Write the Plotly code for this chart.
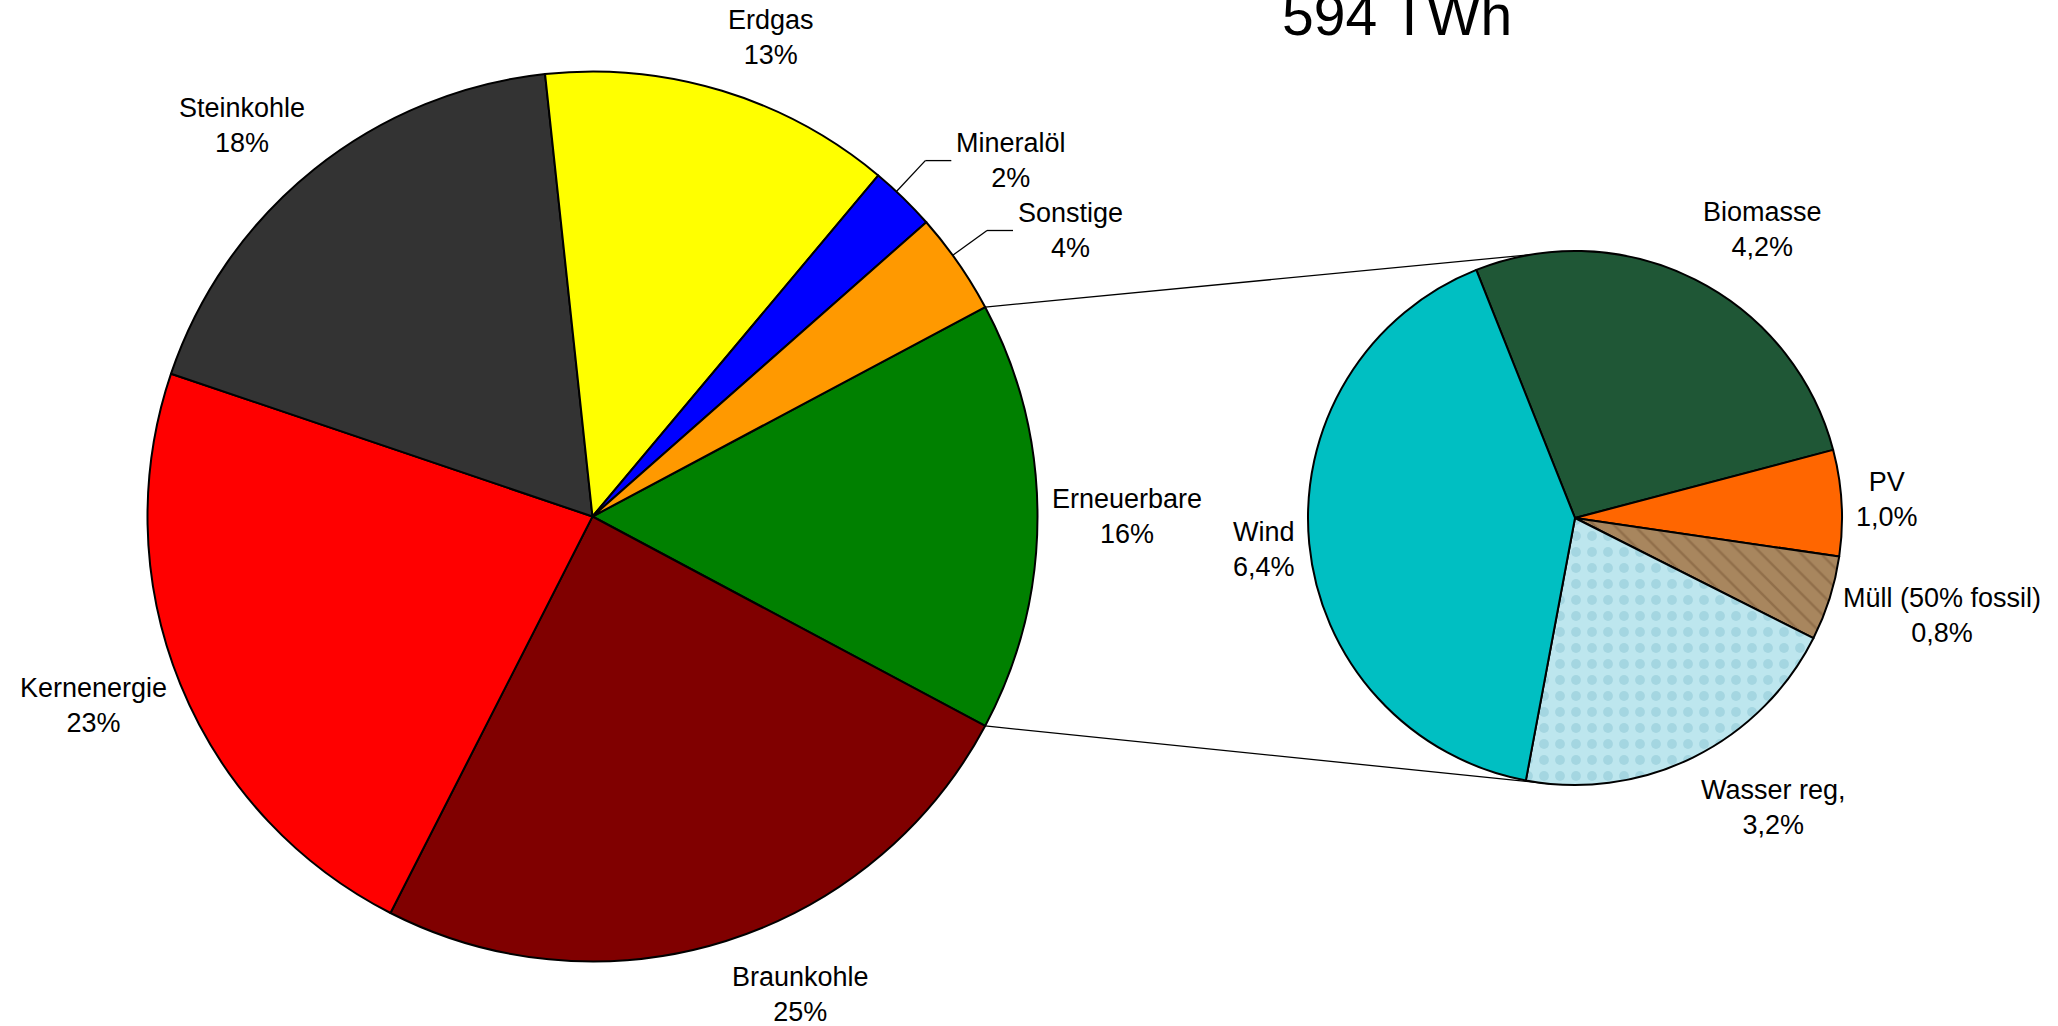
import math
import plotly.graph_objects as go

# ---------------- data ----------------
total_twh = 594
main_labels = ["Erneuerbare", "Braunkohle", "Kernenergie", "Steinkohle", "Erdgas", "Mineralöl", "Sonstige"]
main_values = [15.6, 24.7, 22.7, 18.1, 12.8, 2.4, 3.7]          # share of total, %
sub_labels = ["Biomasse", "PV", "Müll (50% fossil)", "Wasser reg.", "Wind"]
sub_values = [4.2, 1.0, 0.8, 3.2, 6.4]                             # share of total, %

# ---------------- styles / layout ----------------
W, H = 2058, 1026
FONT = "Liberation Sans, Arial, sans-serif"
LABEL_SIZE = 27
main_colors = ["#008000", "#800000", "#FF0000", "#333333", "#FFFF00", "#0000FF", "#FF9900"]
sub_colors = ["#1F5736", "#FF6600", "#A8865E", "#BDE6EE", "#00BFC2"]
sub_pattern = ["", "", "\\", ".", ""]
sub_fg = ["#2E6E4A", "#FF6600", "#7A5836", "#8CC6D4", "#00BFC2"]
sub_size = [34, 8, 14, 16, 8]
sub_solid = [0.08, 0.3, 0.18, 0.3, 0.3]

MAIN_C, MAIN_R = (592.5, 516.5), 445.0
SUB_C, SUB_R = (1575.0, 518.0), 267.0
SUB_ROT = -21.7
GAP = 12
HALF_H = 44
LEADER_LABELS = {"Mineralöl", "Sonstige"}
LEADER_R, LEADER_SHIFT, LEADER_LEN = 1.095, -1.2, 26
CONN_TOP_DEG, CONN_BOT_DEG = -9.5, 185.5


def px(x):
    return x / W


def py(y):
    return 1 - y / H


def domain(c, r):
    return dict(x=[px(c[0] - r), px(c[0] + r)], y=[py(c[1] + r), py(c[1] - r)])


def mids(values, rot):
    tot = sum(values)
    out, cum = [], 0.0
    for v in values:
        out.append(rot + (cum + v / 2) / tot * 360)
        cum += v
    return out


def direction(deg):
    a = math.radians(deg)
    return math.sin(a), -math.cos(a)


main_total = sum(main_values)
main_rot = 90 - main_values[0] / main_total * 360 / 2

fig = go.Figure()
fig.add_trace(go.Pie(
    labels=main_labels, values=main_values, sort=False, direction="clockwise",
    rotation=main_rot, textinfo="none", hoverinfo="label+percent",
    marker=dict(colors=main_colors, line=dict(color="black", width=2)),
    domain=domain(MAIN_C, MAIN_R), showlegend=False,
))
fig.add_trace(go.Pie(
    labels=sub_labels, values=sub_values, sort=False, direction="clockwise",
    rotation=SUB_ROT, textinfo="none", hoverinfo="label+value",
    marker=dict(colors=sub_colors, line=dict(color="black", width=2),
                pattern=dict(shape=sub_pattern, fgcolor=sub_fg, size=sub_size,
                             solidity=sub_solid, fillmode="overlay")),
    domain=domain(SUB_C, SUB_R), showlegend=False,
))

annotations, shapes = [], []


def add_label(c, r, deg, text):
    dx, dy = direction(deg)
    x = c[0] + (r + GAP) * dx
    y = c[1] + (r + GAP) * dy + dy * HALF_H
    xa = "left" if dx > 0.15 else ("right" if dx < -0.15 else "center")
    annotations.append(dict(x=px(x), y=py(y), xref="paper", yref="paper", text=text,
                            showarrow=False, xanchor=xa, yanchor="middle", align="center",
                            font=dict(family=FONT, size=LABEL_SIZE, color="black")))


for lab, v, m in zip(main_labels, main_values, mids(main_values, main_rot)):
    text = f"{lab}<br>{round(v)}%"
    if lab in LEADER_LABELS:
        dx, dy = direction(m + LEADER_SHIFT)
        x0, y0 = MAIN_C[0] + MAIN_R * dx, MAIN_C[1] + MAIN_R * dy
        x1, y1 = MAIN_C[0] + MAIN_R * LEADER_R * dx, MAIN_C[1] + MAIN_R * LEADER_R * dy
        x2 = x1 + LEADER_LEN
        for a, b, c_, d in [(x0, y0, x1, y1), (x1, y1, x2, y1)]:
            shapes.append(dict(type="line", xref="paper", yref="paper",
                               x0=px(a), y0=py(b), x1=px(c_), y1=py(d),
                               line=dict(color="black", width=1.3)))
        annotations.append(dict(x=px(x2 + 3), y=py(y1), xref="paper", yref="paper", text=text,
                                showarrow=False, xanchor="left", yanchor="middle", align="center",
                                font=dict(family=FONT, size=LABEL_SIZE, color="black")))
    else:
        add_label(MAIN_C, MAIN_R, m, text)

for lab, v, m in zip(sub_labels, sub_values, mids(sub_values, SUB_ROT)):
    text = f"{lab}<br>{v:.1f}%".replace(".", ",")
    add_label(SUB_C, SUB_R, m, text)

# connector lines from the split wedge to the secondary pie
half = main_values[0] / main_total * 360 / 2
for edge_deg, sub_deg in [(90 - half, CONN_TOP_DEG), (90 + half, CONN_BOT_DEG)]:
    dx, dy = direction(edge_deg)
    sx, sy = direction(sub_deg)
    shapes.append(dict(type="line", xref="paper", yref="paper",
                       x0=px(MAIN_C[0] + MAIN_R * dx), y0=py(MAIN_C[1] + MAIN_R * dy),
                       x1=px(SUB_C[0] + SUB_R * sx), y1=py(SUB_C[1] + SUB_R * sy),
                       line=dict(color="black", width=1.3), layer="below"))

annotations.append(dict(x=px(1397), y=py(15), xref="paper", yref="paper",
                        text=f"{total_twh} TWh", showarrow=False,
                        xanchor="center", yanchor="middle",
                        font=dict(family=FONT, size=57, color="black")))

fig.update_layout(width=W, height=H, autosize=False,
                  margin=dict(l=0, r=0, t=0, b=0),
                  paper_bgcolor="white", plot_bgcolor="white",
                  annotations=annotations, shapes=shapes, showlegend=False)

fig.write_html("out.html", config={"displayModeBar": False},
               post_script="document.body.style.margin='0';document.body.style.overflow='hidden';")
